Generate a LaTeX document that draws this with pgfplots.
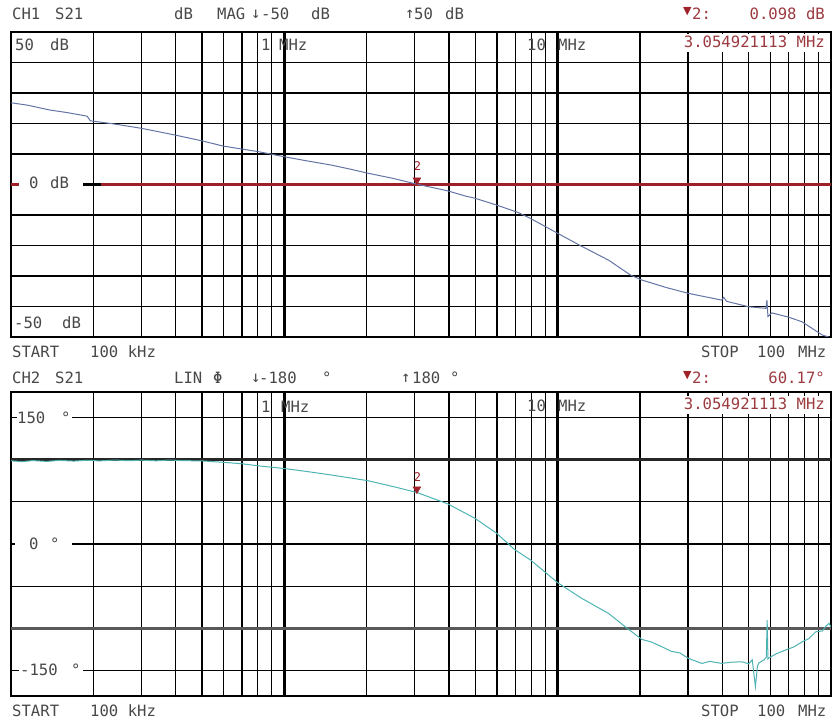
\documentclass[border=0pt]{standalone}
\usepackage{pgfplots}
\pgfplotsset{compat=1.18}
\usepackage{fontspec}
\setmainfont{DejaVu Sans Mono}
\newfontfamily\sym{DejaVu Sans}
\definecolor{txt}{HTML}{484848}
\definecolor{mk}{HTML}{9E2028}
\definecolor{mkt}{HTML}{9B3A3F}
\definecolor{magc}{HTML}{6474A4}
\definecolor{phc}{HTML}{4DB3B3}

\pgfplotstableread{
f v
0.1 26.8
0.115 26.0
0.139 24.4
0.16 23.6
0.19 22.4
0.195 20.9
0.24 19.8
0.301 18.4
0.399 16.2
0.5 14.3
0.597 12.6
0.8 10.8
1.0 9.1
1.2 7.8
1.479 6.4
1.75 5.0
2.021 3.7
2.5 2.0
3.055 0.1
3.97 -2.1
4.6 -3.8
4.98 -4.5
5.96 -6.7
7.18 -9.2
7.94 -11.1
10 -16
12.2 -20.2
15.35 -24.8
18.48 -29.7
20.28 -31.3
25 -33.8
30.1 -35.7
39.8 -37.9
40.5 -37.0
41.5 -38.3
50.0 -40.1
57.8 -40.6
58.3 -37.9
58.8 -43.3
60.8 -42.1
70 -43.5
78.3 -45
92.7 -49.3
100 -50.3
}\magtable

\pgfplotstableread{
f v
0.1 98.5
0.11 97.5
0.12 98.8
0.135 97.8
0.15 99
0.17 98.2
0.19 99.2
0.21 98.4
0.24 99.4
0.27 98.6
0.3 99.3
0.34 98.5
0.38 99.4
0.43 98.7
0.5 98.4
0.606 96.6
0.7 95
0.8 92.6
1.0 89.4
1.2 86
1.479 81.8
2.021 75
2.5 68
3.055 61
3.97 47.4
4.98 30.4
5.98 12.7
6.94 -6.3
7.96 -19
10 -45.8
12.25 -64.4
15.35 -82.2
17.67 -98
20.32 -113
22 -116
24.06 -121.7
26 -127
28 -129
30.1 -135.5
33.7 -141.4
36 -139
39.9 -141.4
43 -140
47.3 -139.5
50 -142
51.5 -137
52.9 -169
53.8 -145
54.4 -141
57 -137
58.0 -134
58.4 -90
58.8 -136
59.3 -135
63 -130
68.2 -125.6
73 -122
78.5 -115.8
83 -112
87.9 -104
93 -103
96 -97
98.3 -94
100 -98
}\phtable

\begin{document}
\begin{tikzpicture}
\path[use as bounding box] (0pt,0pt) rectangle (832pt,722pt);

% ---------- top panel ----------
\begin{axis}[at={(11pt,385pt)}, anchor=south west,
  scale only axis, width=820pt, height=305pt,
  xmode=log, xmin=0.1, xmax=100,
  xtick={1,10}, xticklabels={},
  minor xtick={0.2,0.3,0.4,0.5,0.6,0.7,0.8,0.9,2,3,4,5,6,7,8,9,20,30,40,50,60,70,80,90},
  ymin=-50, ymax=50, ytick={-40,-30,-20,-10,10,20,30,40}, yticklabels={},
  major tick length=0pt, minor tick length=0pt,
  grid=both,
  major grid style={black, line width=1.3pt},
  minor grid style={black, line width=1.3pt},
  axis line style={black, line width=2.4pt}]
\addplot[black, line width=2.6pt, forget plot] coordinates {(1,-50) (1,50)};
\addplot[black, line width=2.6pt, forget plot] coordinates {(10,-50) (10,50)};
\addplot[mk, line width=2.4pt] coordinates {(0.1,0) (100,0)};
\addplot[black, line width=2.4pt, forget plot] coordinates {(0.1826,0) (0.2137,0)};
\addplot[magc, line width=1pt] table[x=f,y=v] {\magtable};
\addplot[mk, only marks, mark=triangle*, mark size=4.5pt,
  mark options={rotate=180, yshift=-4pt}] coordinates {(3.055,0.098)};
\end{axis}

% ---------- bottom panel ----------
\begin{axis}[at={(11pt,26pt)}, anchor=south west,
  scale only axis, width=820pt, height=304pt,
  xmode=log, xmin=0.1, xmax=100,
  xtick={1,10}, xticklabels={},
  minor xtick={0.2,0.3,0.4,0.5,0.6,0.7,0.8,0.9,2,3,4,5,6,7,8,9,20,30,40,50,60,70,80,90},
  ymin=-180, ymax=180, ytick={-150,-50,50,150}, yticklabels={},
  major tick length=0pt, minor tick length=0pt,
  grid=both,
  major grid style={black, line width=1.3pt},
  minor grid style={black, line width=1.3pt},
  axis line style={black, line width=2.4pt}]
\addplot[black, line width=2.6pt, forget plot] coordinates {(1,-180) (1,180)};
\addplot[black, line width=2.6pt, forget plot] coordinates {(10,-180) (10,180)};
\addplot[black, line width=2.4pt, forget plot] coordinates {(0.1,0) (100,0)};
\addplot[black!85, line width=2.2pt, forget plot] coordinates {(0.1,100) (100,100)};
\addplot[black!65, line width=2.4pt, forget plot] coordinates {(0.1,-100) (100,-100)};
\addplot[phc, line width=1pt] table[x=f,y=v] {\phtable};
\addplot[mk, only marks, mark=triangle*, mark size=4.5pt,
  mark options={rotate=180, yshift=-4pt}] coordinates {(3.055,60.17)};
\end{axis}

\begin{scope}[x=1pt,y=1pt,every node/.style={inner sep=0pt, text=txt, anchor=west, font=\fontsize{15.6}{18}\selectfont}]
% white boxes for in-plot labels
\fill[white] (19,531) rectangle (83,547);
\fill[white] (17,296) rectangle (72,312);
\fill[white] (15,170) rectangle (72,186);
\fill[white] (19,44) rectangle (83,60);
\fill[white] (683,670) rectangle (827,688);
\fill[white] (683,308) rectangle (827,326);
% top header
\node at (12,708) {CH1};
\node at (55,708) {S21};
\node at (174,708) {dB};
\node at (217,708) {MAG};
\node at (251,708) {↓};
\node at (261,708) {-50};
\node at (311,708) {dB};
\node at (405,708) {↑};
\node at (414,708) {50};
\node at (445,708) {dB};
\node[text=mk] at (683,710) {\sym\fontsize{11}{12}\selectfont ▼};
\node[text=mkt] at (692,708) {2:};
\node[anchor=east, text=mkt] at (825,708) {0.098 dB};
\node[anchor=east, text=mkt] at (825,680) {3.054921113 MHz};
\node at (261,677) {1};
\node at (279,677) {MHz};
\node at (527,677) {10};
\node at (558,677) {MHz};
\node at (15,677) {50};
\node at (50,677) {dB};
\node at (29,539) {0};
\node at (50,539) {dB};
\node at (14,399) {-50};
\node at (62,399) {dB};
\node[anchor=center, text=mk, font=\fontsize{12}{12}\selectfont] at (417.5,556) {2};
\node at (12,370) {START};
\node at (90,370) {100 kHz};
\node at (701,370) {STOP};
\node at (757,370) {100};
\node at (798,370) {MHz};
% bottom header
\node at (12,344) {CH2};
\node at (55,344) {S21};
\node at (174,344) {LIN};
\node at (213,344) {Φ};
\node at (251,344) {↓};
\node at (259,344) {-180};
\node at (322,344) {°};
\node at (401,344) {↑};
\node at (412,344) {180};
\node at (450,344) {°};
\node[text=mk] at (683,346) {\sym\fontsize{11}{12}\selectfont ▼};
\node[text=mkt] at (692,344) {2:};
\node[anchor=east, text=mkt] at (825,344) {60.17°};
\node[anchor=east, text=mkt] at (825,318) {3.054921113 MHz};
\node at (261,315) {1};
\node at (281,315) {MHz};
\node at (527,316) {10};
\node at (558,316) {MHz};
\node at (17,304) {150};
\node at (61,304) {°};
\node at (29,178) {0};
\node at (50,178) {°};
\node at (20,52) {-150};
\node at (71,52) {°};
\node[anchor=center, text=mk, font=\fontsize{12}{12}\selectfont] at (417.5,245) {2};
\node at (12,11) {START};
\node at (90,11) {100 kHz};
\node at (701,11) {STOP};
\node at (757,11) {100};
\node at (798,11) {MHz};
\end{scope}
\end{tikzpicture}
\end{document}
